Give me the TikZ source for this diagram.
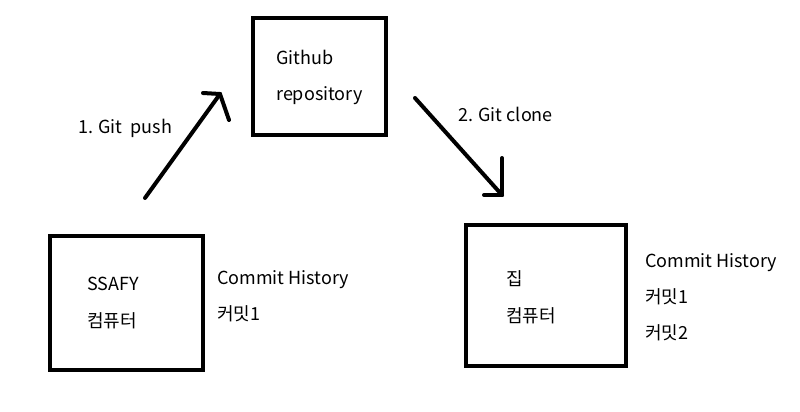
\documentclass[tikz,border=0pt]{standalone}
\usepackage{fontspec}
\setmainfont{Noto Sans CJK KR}
\begin{document}
\begin{tikzpicture}[x=1pt, y=-1pt, box/.style={draw, line width=4pt, inner sep=0pt}, lbl/.style={anchor=base west, inner sep=0pt, font=\fontsize{18}{20}\selectfont}, arr/.style={line width=4pt, line cap=round, line join=round}]
\useasboundingbox (0,0) rectangle (800,412);
\node[box, minimum width=133.5pt, minimum height=116pt] (repo) at (319.25,76.5) {};
\node[box, minimum width=153.5pt, minimum height=134pt] (ssafy) at (126.25,303) {};
\node[box, minimum width=160pt, minimum height=141pt] (home) at (546,295.5) {};
\node[lbl] (repo1) at (276,64) {Github};
\node[lbl] (repo2) at (276,100) {repository};
\node[lbl] (ssafy1) at (87,290) {SSAFY};
\node[lbl] (ssafy2) at (87,327) {컴퓨터};
\node[lbl] (hist1) at (217,284) {Commit History};
\node[lbl] (hist1a) at (217,320) {커밋1};
\node[lbl] (home1) at (506,285) {집};
\node[lbl] (home2) at (506,322) {컴퓨터};
\node[lbl] (hist2) at (645,267) {Commit History};
\node[lbl] (hist2a) at (645,303) {커밋1};
\node[lbl] (hist2b) at (645,339) {커밋2};
\node[lbl] (push) at (78,133) {1. Git\ \ push};
\node[lbl] (clone) at (458,121) {2. Git clone};
\coordinate (pushtail) at (145,198);
\coordinate (pushtip) at (220,94);
\coordinate (clonetail) at (415,98);
\coordinate (clonetip) at (502,195);
\draw[arr] (pushtail) -- (pushtip);
\draw[arr] (pushtip) -- ++(-17,-1);
\draw[arr] (pushtip) -- ++(9,26);
\draw[arr] (clonetail) -- (clonetip);
\draw[arr] (clonetip) -- ++(0,-37);
\draw[arr] (clonetip) -- ++(-18,0);
\end{tikzpicture}
\end{document}
